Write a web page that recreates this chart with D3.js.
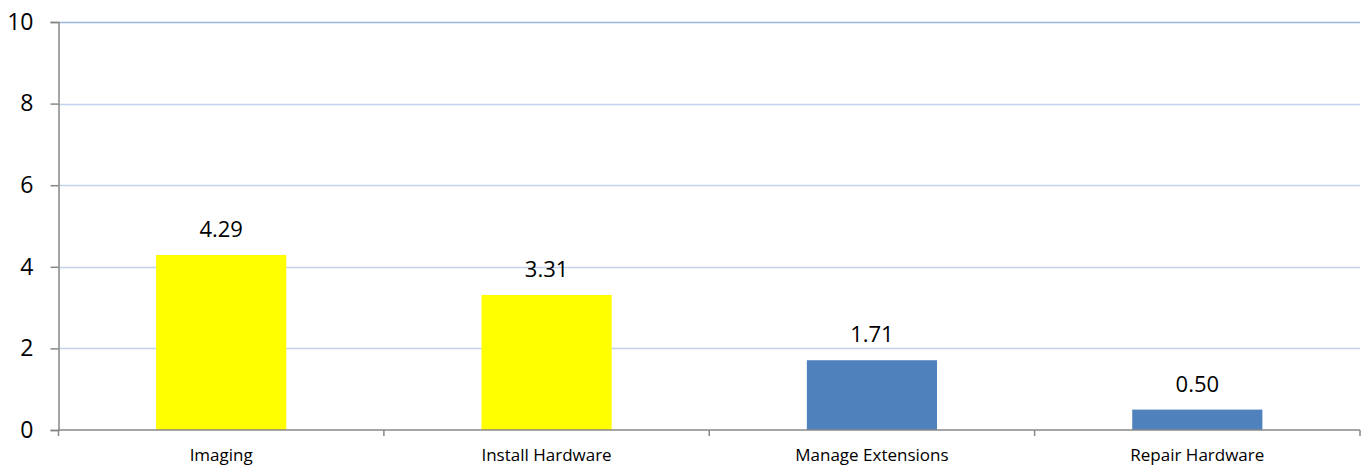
<!DOCTYPE html>
<html lang="en">
<head>
<meta charset="utf-8">
<title>Bar chart</title>
<script src="https://d3js.org/d3.v7.min.js"></script>
<style>
  body { margin: 0; background: #fff; }
  svg { display: block; font-family: "Open Sans", "Liberation Sans", sans-serif; }
</style>
</head>
<body>
<script>
// data
var categories = ["Imaging", "Install Hardware", "Manage Extensions", "Repair Hardware"];
var values = [4.29, 3.31, 1.71, 0.50];
var barColors = ["#ffff00", "#ffff00", "#4f81bd", "#4f81bd"];
var yTicks = [0, 2, 4, 6, 8, 10];

var w = 1366, h = 468;
var margin = {top: 22, right: 6, bottom: 38, left: 58.5};

var svg = d3.select("body").append("svg")
  .attr("width", w)
  .attr("height", h);

var x = d3.scaleBand()
  .domain(categories)
  .range([margin.left, w - margin.right])
  .paddingInner(0.6)
  .paddingOuter(0.3);

var y = d3.scaleLinear()
  .domain([0, 10])
  .range([h - margin.bottom, margin.top]);

// gridlines
svg.append("g")
  .selectAll("line")
  .data(yTicks.filter(function(d) { return d > 0; }))
  .enter().append("line")
  .attr("x1", margin.left)
  .attr("x2", w - margin.right)
  .attr("y1", function(d) { return Math.round(y(d)) + 0.5; })
  .attr("y2", function(d) { return Math.round(y(d)) + 0.5; })
  .attr("stroke", function(d) { return d === 10 ? "#9bb7e0" : "#c3d3ec"; })
  .attr("stroke-width", 1.5);

// bars
svg.append("g")
  .selectAll("rect")
  .data(values)
  .enter().append("rect")
  .attr("x", function(d, i) { return x(categories[i]); })
  .attr("width", x.bandwidth())
  .attr("y", function(d) { return y(d); })
  .attr("height", function(d) { return y(0) - y(d); })
  .attr("fill", function(d, i) { return barColors[i]; });

// value labels
svg.append("g")
  .selectAll("text")
  .data(values)
  .enter().append("text")
  .attr("x", function(d, i) { return x(categories[i]) + x.bandwidth() / 2; })
  .attr("y", function(d) { return y(d) - 18; })
  .attr("text-anchor", "middle")
  .attr("font-size", "22px")
  .attr("fill", "#000")
  .text(function(d) { return d.toFixed(2); });

// y axis
var yAxis = svg.append("g")
  .attr("transform", "translate(" + margin.left + ",0)")
  .call(d3.axisLeft(y).tickValues(yTicks).tickSize(8).tickPadding(17).tickFormat(d3.format("d")));
yAxis.selectAll("text").attr("font-size", "23px").attr("fill", "#000")
  .attr("font-family", "'Open Sans', 'Liberation Sans', sans-serif");
yAxis.selectAll("line, path").attr("stroke", "#888").attr("stroke-width", 1.5);

// x axis: ticks at band boundaries
var bandStep = x.step();
var boundaries = [margin.left];
categories.forEach(function(c) { boundaries.push(x(c) - x.paddingInner() * bandStep / 2 + bandStep); });
boundaries[boundaries.length - 1] = w - margin.right;

var xAxis = svg.append("g");
xAxis.append("line")
  .attr("x1", margin.left)
  .attr("x2", w - margin.right)
  .attr("y1", y(0))
  .attr("y2", y(0))
  .attr("stroke", "#888")
  .attr("stroke-width", 1.5);
xAxis.selectAll(".tick")
  .data(boundaries)
  .enter().append("line")
  .attr("x1", function(d) { return d; })
  .attr("x2", function(d) { return d; })
  .attr("y1", y(0))
  .attr("y2", y(0) + 6)
  .attr("stroke", "#888")
  .attr("stroke-width", 1.5);
xAxis.selectAll("text")
  .data(categories)
  .enter().append("text")
  .attr("x", function(d) { return x(d) + x.bandwidth() / 2; })
  .attr("y", y(0) + 31)
  .attr("text-anchor", "middle")
  .attr("font-size", "17px")
  .attr("fill", "#000")
  .text(function(d) { return d; });
</script>
</body>
</html>
